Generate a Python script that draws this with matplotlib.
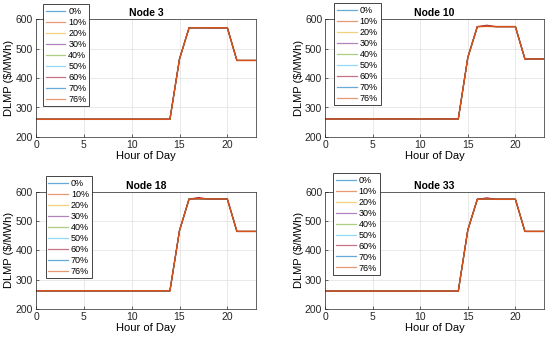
import matplotlib.pyplot as plt

plt.rcParams['font.family'] = ['Liberation Sans', 'DejaVu Sans']

# --- данные ---
hours = list(range(24))
scenarios = ['0%', '10%', '20%', '30%', '40%', '50%', '60%', '70%', '76%']
nodes = ['Node 3', 'Node 10', 'Node 18', 'Node 33']

# базовый профиль DLMP по узлам ($/MWh)
node3 = [260] * 15 + [465, 571, 571, 571, 571, 571, 460, 460, 460]
node10 = [261] * 15 + [470, 575, 576, 575, 575, 575, 465, 465, 465]
node18 = [262] * 15 + [468, 576, 577, 576, 576, 576, 465, 465, 465]
node33 = [261] * 15 + [470, 575, 576, 575, 575, 575, 465, 465, 465]
profiles = [node3, node10, node18, node33]

# пик в 17 ч для каждого сценария (немного отличается)
peak17 = [
    [571, 571, 571, 571, 571, 571, 572, 571, 571],
    [576, 576, 576, 576, 576, 576, 580, 576, 576],
    [577, 577, 577, 577, 577, 577, 581, 577, 577],
    [576, 576, 576, 576, 576, 576, 580, 576, 576],
]

colors = ['#0072BD', '#D95319', '#EDB120', '#7E2F8E', '#77AC30',
          '#4DBEEE', '#A2142F', '#0072BD', '#D95319']

# --- расположение осей (в долях фигуры) ---
positions = [
    [0.0655, 0.602, 0.400, 0.342],
    [0.5910, 0.602, 0.398, 0.342],
    [0.0655, 0.102, 0.400, 0.340],
    [0.5910, 0.102, 0.398, 0.340],
]
legend_anchor = [(0.078, 0.988), (0.608, 0.991), (0.083, 0.488), (0.606, 0.497)]

fig = plt.figure(figsize=(5.5, 3.44), dpi=100)

for k in range(4):
    ax = fig.add_axes(positions[k])
    for s in range(len(scenarios)):
        y = list(profiles[k])
        y[17] = peak17[k][s]
        last = s == len(scenarios) - 1
        ax.plot(hours, y, color=colors[s], lw=1.1 if last else 0.7,
                label=scenarios[s])

    ax.set_xlim(0, 23)
    ax.set_ylim(200, 600)
    ax.set_xticks([0, 5, 10, 15, 20])
    ax.set_yticks([200, 300, 400, 500, 600])
    ax.tick_params(direction='in', labelsize=7.5, length=2.5, width=0.5,
                   colors='#262626', pad=2)
    ax.grid(True, color='#e0e0e0', lw=0.5)
    for sp in ax.spines.values():
        sp.set_color('#262626')
        sp.set_linewidth(0.5)
    ax.set_xlabel('Hour of Day', fontsize=8, labelpad=1)
    ax.set_ylabel('DLMP ($/MWh)', fontsize=8, labelpad=1)
    ax.set_title(nodes[k], fontsize=7.5, fontweight='bold', pad=2)

    leg = ax.legend(loc='upper left', bbox_to_anchor=legend_anchor[k],
                    bbox_transform=fig.transFigure, fontsize=6.5,
                    labelspacing=0.22, handlelength=2.2, handletextpad=0.3,
                    borderpad=0.3, borderaxespad=0, fancybox=False,
                    framealpha=1, edgecolor='#262626')
    leg.get_frame().set_linewidth(0.6)
    for line in leg.get_lines():
        line.set_alpha(0.6)
        line.set_linewidth(0.9)

plt.savefig('out.png', dpi=100)
